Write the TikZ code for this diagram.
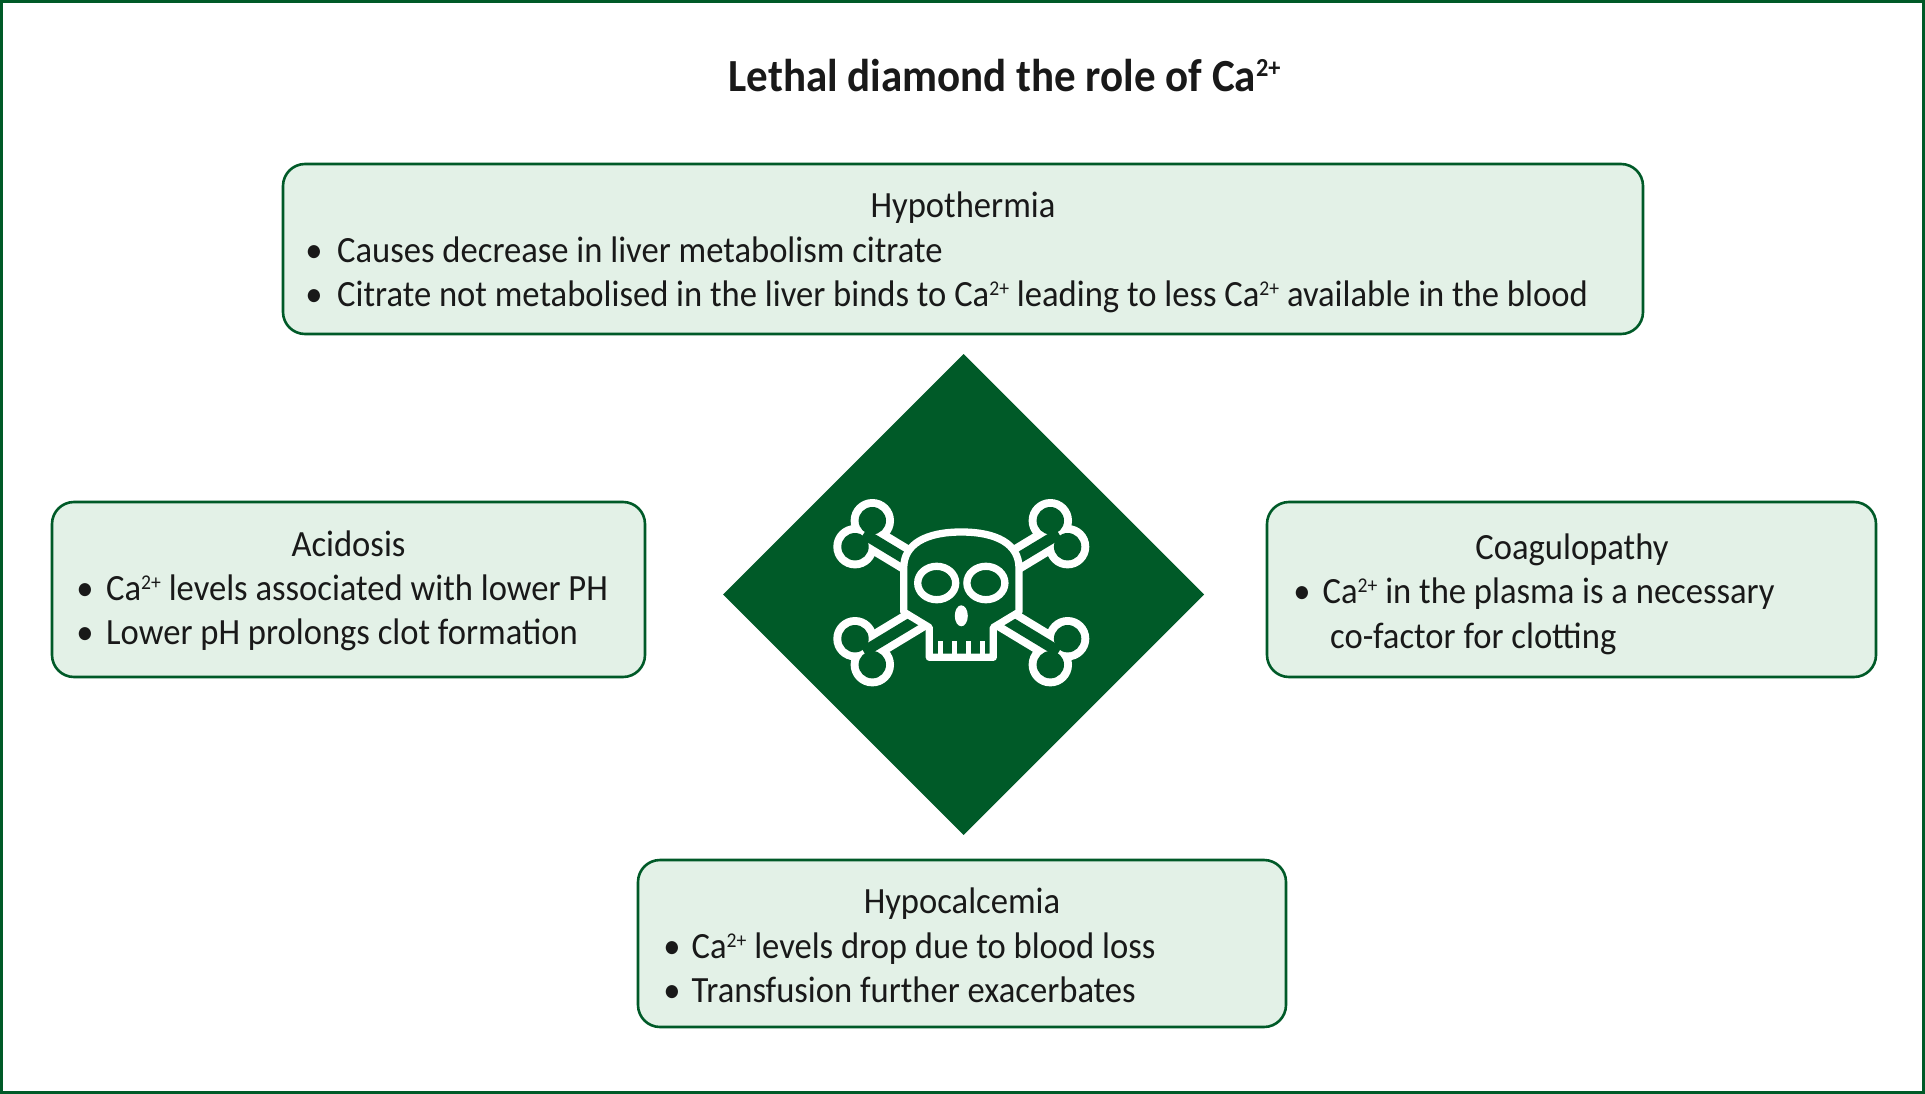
\documentclass[tikz,border=0pt]{standalone}
\usepackage{fontspec}
\setmainfont[FakeStretch=0.935]{Carlito}
\definecolor{dkgreen}{RGB}{0,90,40}
\definecolor{ltgreen}{RGB}{227,241,231}
\newcommand{\bodyfont}{\fontsize{37}{44.5}\selectfont}
\newcommand{\titlefont}{\fontsize{46}{50}\selectfont\bfseries}
\newcommand{\caii}{Ca\raisebox{0.29em}{\fontsize{21}{21}\selectfont 2+}}
\tikzset{
  box/.style={draw=dkgreen, fill=ltgreen, line width=2.6pt, rounded corners=22pt, inner sep=0pt},
  ttl/.style={anchor=base, inner sep=0pt, font=\bodyfont, text=black!90},
  bul/.style={anchor=base, inner sep=0pt, font=\bodyfont, text=black!90},
  txt/.style={anchor=base west, inner sep=0pt, font=\bodyfont, text=black!90},
  bonew/.style={white, line width=27pt},
  boneg/.style={dkgreen, line width=11pt}
}
\begin{document}
\begin{tikzpicture}[x=1pt,y=-1pt]
\useasboundingbox (0,0) rectangle (1925,1094);
\fill[white] (0,0) rectangle (1925,1094);
\draw[dkgreen, line width=3pt] (1.5,1.5) rectangle (1923.5,1092.5);

% title
\node[anchor=base, inner sep=0pt, font=\titlefont, text=black!90] (title) at (1004.5,91.5)
  {Lethal diamond the role of Ca\raisebox{0.33em}{\fontsize{26}{26}\selectfont 2+}};

% boxes
\node[box, minimum width=1360pt, minimum height=170pt] (hypoth) at (963,249) {};
\node[box, minimum width=593pt, minimum height=175pt] (acid) at (348.5,589.5) {};
\node[box, minimum width=609pt, minimum height=175pt] (coag) at (1571.5,589.5) {};
\node[box, minimum width=648pt, minimum height=167pt] (hypoca) at (962,943.5) {};

% Hypothermia
\node[ttl] (t1) at (963,217.5) {Hypothermia};
\node[bul] (b11) at (314,262) {•};
\node[txt] (l11) at (337,262) {Causes decrease in liver metabolism citrate};
\node[bul] (b12) at (314,306) {•};
\node[txt] (l12) at (337,306) {Citrate not metabolised in the liver binds to \caii{} leading to less \caii{} available in the blood};

% Acidosis
\node[ttl] (t2) at (348.5,556) {Acidosis};
\node[bul] (b21) at (85,600) {•};
\node[txt] (l21) at (106,600) {\caii{} levels associated with lower PH};
\node[bul] (b22) at (85,644.5) {•};
\node[txt] (l22) at (106,644.5) {Lower pH prolongs clot formation};

% Coagulopathy
\node[ttl] (t3) at (1572,559.5) {Coagulopathy};
\node[bul] (b31) at (1302,603.5) {•};
\node[txt] (l31) at (1322.5,603.5) {\caii{} in the plasma is a necessary};
\node[txt] (l32) at (1330,648) {co-factor for clotting};

% Hypocalcemia
\node[ttl] (t4) at (962,913) {Hypocalcemia};
\node[bul] (b41) at (672,958) {•};
\node[txt] (l41) at (691.5,958) {\caii{} levels drop due to blood loss};
\node[bul] (b42) at (672,1002.5) {•};
\node[txt] (l42) at (691.5,1002.5) {Transfusion further exacerbates};

% diamond
\coordinate (dia) at (963.5,594.5);
\fill[dkgreen] (963.5,354) -- (1204,594.5) -- (963.5,835) -- (723,594.5) -- cycle;

% bones
\coordinate (ulend) at (863.7,533.7);
\coordinate (lrend) at (1058.9,651.7);
\coordinate (urend) at (1058.9,533.7);
\coordinate (llend) at (863.7,651.7);
\draw[bonew] (ulend) -- (lrend) (urend) -- (llend);
\foreach \p in {(872.3,520.7),(855,546.7),(1050.3,520.7),(1067.6,546.7),(855,638.7),(872.3,664.7),(1067.6,638.7),(1050.3,664.7)}
  \fill[white] \p circle[radius=21.7pt];
\draw[boneg] (ulend) -- (lrend) (urend) -- (llend);
\foreach \p in {(872.3,520.7),(855,546.7),(1050.3,520.7),(1067.6,546.7),(855,638.7),(872.3,664.7),(1067.6,638.7),(1050.3,664.7)}
  \fill[dkgreen] \p circle[radius=13.7pt];

% skull
\draw[white, fill=dkgreen, line width=7.3pt, line join=round]
  (903.7,612) -- (903.7,568)
  .. controls (903.7,544) and (926,532) .. (961.3,532)
  .. controls (996.6,532) and (1019,544) .. (1019,568)
  -- (1019,612) -- (993.3,627.5) -- (993.3,657.3) -- (929.3,657.3) -- (929.3,627.5) -- cycle;
\draw[white, line width=7.3pt] (936.7,583) ellipse[x radius=19pt, y radius=16.7pt];
\draw[white, line width=7.3pt] (985.9,583) ellipse[x radius=19pt, y radius=16.7pt];
\fill[white] (961.3,615.8) ellipse[x radius=6.5pt, y radius=10.5pt];
\foreach \tx in {940.3,954.3,968.3,982.3}
  \draw[white, line width=5pt] (\tx,657) -- (\tx,641);
\end{tikzpicture}
\end{document}
